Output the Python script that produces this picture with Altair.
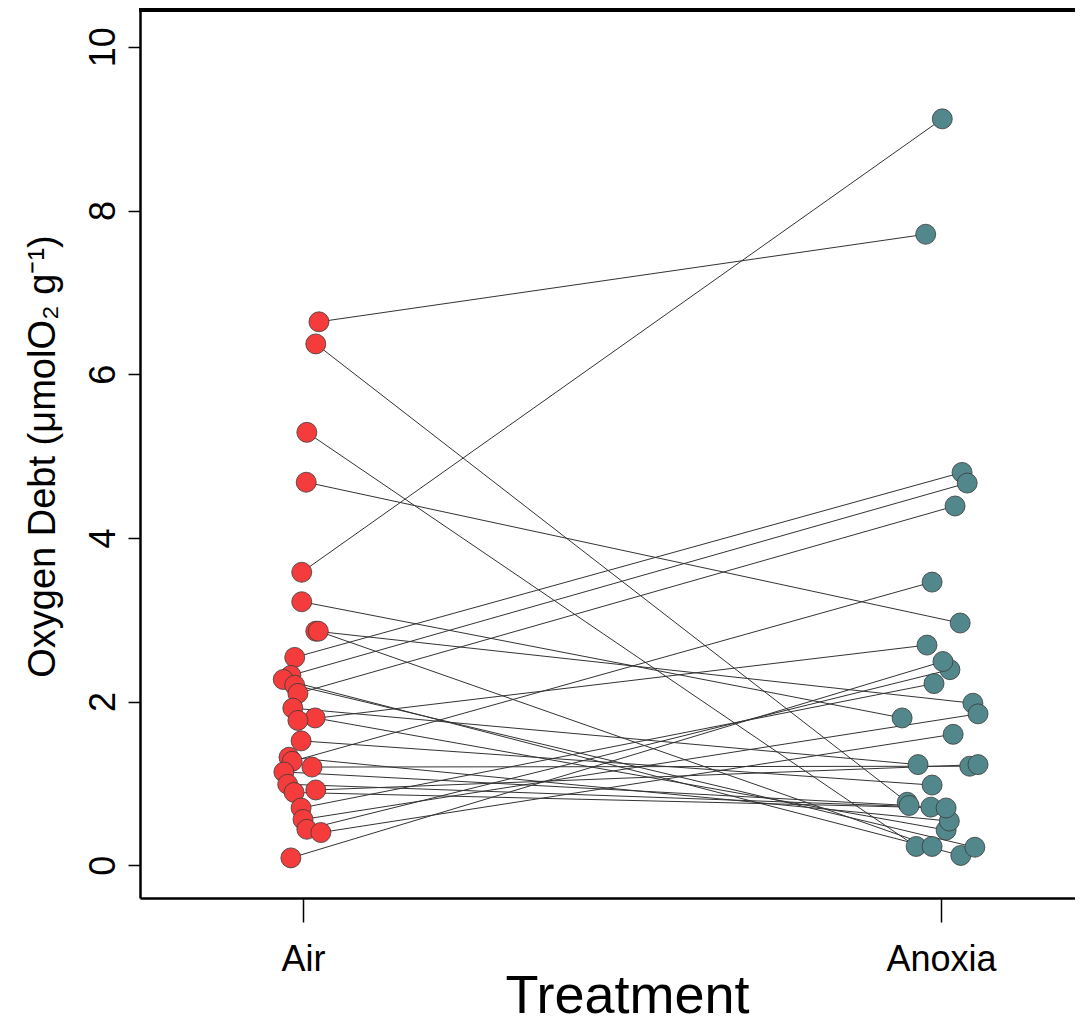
import altair as alt
import pandas as pd

# Paired measurements (one row per animal): Air value/jitter, Anoxia value/jitter
air_value = [6.64, 6.37, 5.29, 4.68, 3.58, 3.22, 2.86, 2.86, 2.54, 2.32,
             2.27, 2.20, 2.10, 1.92, 1.80, 1.77, 1.52, 1.32, 1.27, 1.20,
             1.14, 0.99, 0.92, 0.89, 0.70, 0.56, 0.44, 0.40, 0.09]
air_pos = [1.025, 1.020, 1.006, 1.005, 0.998, 0.998, 1.020, 1.024, 0.987, 0.981,
           0.969, 0.987, 0.992, 0.984, 1.019, 0.992, 0.997, 0.978, 0.983, 1.014,
           0.970, 0.976, 1.020, 0.986, 0.997, 1.000, 1.006, 1.028, 0.981]
anoxia_value = [7.71, 0.77, 0.23, 2.96, 9.12, 1.80, 1.98, 0.23, 4.80, 4.67,
                0.12, 0.22, 4.39, 1.23, 0.43, 2.69, 0.98, 0.54, 3.46, 1.21,
                0.73, 0.71, 1.23, 0.70, 2.22, 1.85, 2.39, 1.60, 2.49]
anoxia_pos = [1.976, 1.947, 1.961, 2.030, 2.002, 1.939, 2.050, 1.986, 2.033, 2.041,
              2.031, 2.053, 2.022, 1.964, 2.008, 1.978, 1.986, 2.013, 1.986, 2.045,
              1.950, 1.984, 2.058, 2.008, 1.989, 2.058, 2.014, 2.019, 2.003]

treatments = ["Air", "Anoxia"]
tick_values = [0, 2, 4, 6, 8, 10]

W, H = 935, 888
FONT = "Liberation Sans"

pairs = pd.DataFrame({
    "ax": air_pos, "ay": air_value,
    "nx": anoxia_pos, "ny": anoxia_value,
})
points = pd.DataFrame({
    "x": air_pos + anoxia_pos,
    "y": air_value + anoxia_value,
    "Treatment": [treatments[0]] * len(air_value) + [treatments[1]] * len(anoxia_value),
})

xscale = alt.Scale(domain=[0.7445, 2.2100], nice=False, zero=False)
yscale = alt.Scale(domain=[-0.40, 10.45], nice=False, zero=False)

xaxis = alt.Axis(
    values=[1, 2], labelExpr="datum.value == 1 ? 'Air' : 'Anoxia'",
    grid=False, domainColor="black", domainWidth=2.5, tickColor="black",
    tickWidth=1.5, tickSize=24, labelFont=FONT, labelFontSize=36,
    labelColor="black", labelPadding=20, labelBaseline="top",
    title="Treatment", titleFont=FONT, titleFontSize=54, titleFontWeight="normal",
    titleColor="black", titleX=487, titleY=114, titleBaseline="alphabetic",
    titleAlign="center",
)
yaxis = alt.Axis(
    values=tick_values, format="d", grid=False, domainColor="black", domainWidth=2.5,
    tickColor="black", tickWidth=1.5, tickSize=12, labelFont=FONT,
    labelFontSize=36, labelColor="black", labelAngle=270, labelAlign="center",
    labelBaseline="alphabetic", labelPadding=14,
    title="Oxygen Debt (μmolO₂ g⁻¹)", titleFont=FONT, titleFontSize=38,
    titleFontWeight="normal", titleColor="black", titleAngle=270,
    titleX=-86, titleY=446, titleAlign="center", titleBaseline="alphabetic",
)

lines = alt.Chart(pairs).mark_rule(color="#333333", strokeWidth=1).encode(
    x=alt.X("ax:Q", scale=xscale, axis=xaxis),
    y=alt.Y("ay:Q", scale=yscale, axis=yaxis),
    x2="nx:Q",
    y2="ny:Q",
)

dots = alt.Chart(points).mark_point(
    filled=True, size=400, opacity=1, stroke="#3a3a3a", strokeWidth=0.8,
    shape="circle",
).encode(
    x=alt.X("x:Q", scale=xscale),
    y=alt.Y("y:Q", scale=yscale),
    fill=alt.Fill("Treatment:N",
                  scale=alt.Scale(domain=treatments, range=["#F43C3C", "#52878B"]),
                  legend=None),
)

top_frame = alt.Chart(pairs).mark_rule(color="black", strokeWidth=2.5).encode(
    x=alt.value(-1), x2=alt.value(W + 20), y=alt.value(0),
)

chart = alt.layer(lines, dots, top_frame).properties(
    width=W, height=H,
    padding={"left": 132, "top": 2, "right": 0, "bottom": 128},
    autosize=alt.AutoSizeParams(type="none"),
).configure_view(stroke=None)

chart.save("out.html", embed_options={"renderer": "svg", "actions": False})
